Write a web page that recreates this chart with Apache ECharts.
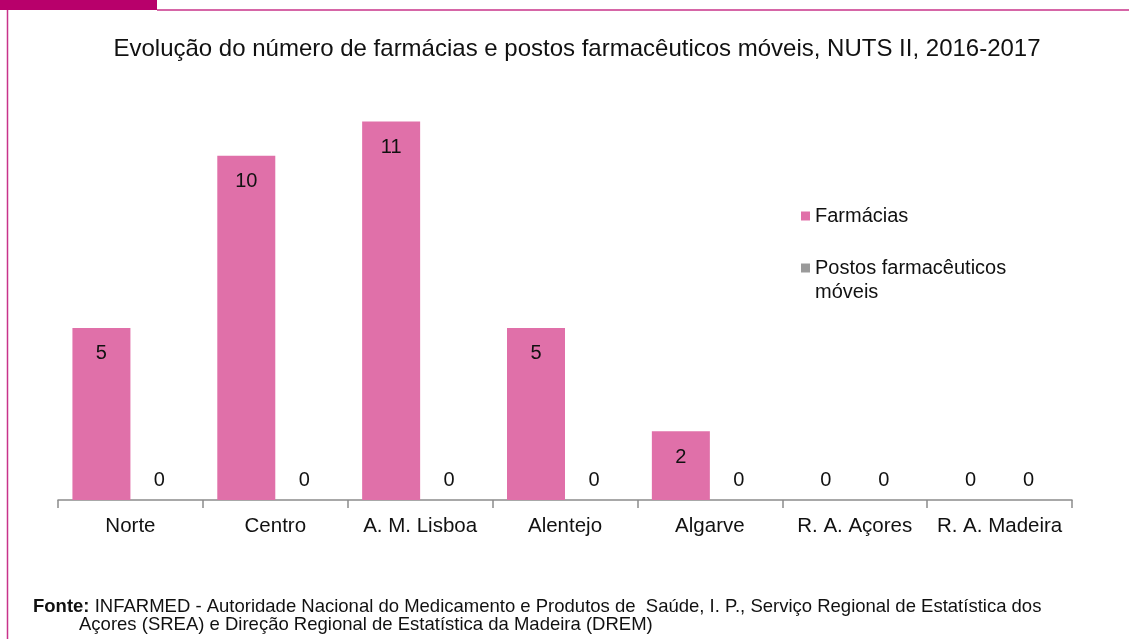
<!DOCTYPE html>
<html>
<head>
<meta charset="utf-8">
<script src="https://cdn.jsdelivr.net/npm/echarts@6/dist/echarts.min.js"></script>
<style>
  html, body { margin: 0; padding: 0; background: #fff; }
  #chart { width: 1129px; height: 639px; }
</style>
</head>
<body>
<div id="chart"></div>
<script>
// data
var regions = ['Norte', 'Centro', 'A. M. Lisboa', 'Alentejo', 'Algarve', 'R. A. Açores', 'R. A. Madeira'];
var farmacias = [5, 10, 11, 5, 2, 0, 0];
var postosMoveis = [0, 0, 0, 0, 0, 0, 0];

var FONT = '"Liberation Sans", Arial, sans-serif';
var PINK = '#e070a9';
var GREY = '#9a9a9a';

// zero values sit above the axis, others inside the bar top
function toItems(arr) {
    return arr.map(function (v) {
        if (v === 0) {
            return { value: v, label: { position: 'top', distance: 10 } };
        }
        return v;
    });
}

var chart = echarts.init(document.getElementById('chart'));

chart.setOption({
    animation: false,
    textStyle: { fontFamily: FONT },
    title: {
        text: 'Evolução do número de farmácias e postos farmacêuticos móveis, NUTS II, 2016-2017',
        left: 572,
        textAlign: 'center',
        top: 32,
        textStyle: { fontSize: 24, fontWeight: 'normal', color: '#111', fontFamily: FONT }
    },
    legend: {
        orient: 'vertical',
        left: 796,
        top: 199,
        itemWidth: 9,
        itemHeight: 9,
        itemGap: 4,
        icon: 'rect',
        textStyle: { fontSize: 20, lineHeight: 24, color: '#111', fontFamily: FONT },
        // empty first line keeps the square level with "Postos farmacêuticos"
        formatter: function (name) {
            return name === 'Postos farmacêuticos móveis' ? '\nPostos farmacêuticos\nmóveis' : name;
        },
        data: ['Farmácias', 'Postos farmacêuticos móveis']
    },
    grid: { left: 58, right: 57, top: 87, bottom: 139 },
    xAxis: {
        type: 'category',
        data: regions,
        axisLine: { lineStyle: { color: '#8c8c8c', width: 1.5 } },
        axisTick: { show: true, length: 8, lineStyle: { color: '#8c8c8c', width: 1.5 } },
        axisLabel: { fontSize: 20.5, color: '#111', margin: 16, fontFamily: FONT, interval: 0 }
    },
    yAxis: {
        type: 'value',
        min: 0,
        max: 12,
        show: false,
        splitLine: { show: false }
    },
    series: [
        {
            name: 'Farmácias',
            type: 'bar',
            data: toItems(farmacias),
            barWidth: 58,
            barGap: '0%',
            itemStyle: { color: PINK },
            label: {
                show: true,
                position: 'insideTop',
                distance: 16,
                fontSize: 20,
                color: '#111',
                fontFamily: FONT
            }
        },
        {
            name: 'Postos farmacêuticos móveis',
            type: 'bar',
            data: toItems(postosMoveis),
            barWidth: 58,
            barGap: '0%',
            itemStyle: { color: GREY },
            label: {
                show: true,
                position: 'top',
                distance: 10,
                fontSize: 20,
                color: '#111',
                fontFamily: FONT
            }
        }
    ],
    graphic: [
        // magenta tab and frame lines
        { type: 'rect', shape: { x: 0, y: 0, width: 157, height: 10 }, style: { fill: '#b8006b' } },
        { type: 'line', shape: { x1: 157, y1: 10, x2: 1129, y2: 10 }, style: { stroke: '#c8338a', lineWidth: 1.5 } },
        { type: 'line', shape: { x1: 7.5, y1: 10, x2: 7.5, y2: 639 }, style: { stroke: '#c8338a', lineWidth: 1.5 } },
        {
            type: 'text',
            left: 33,
            top: 597,
            style: {
                text: '{b|Fonte:} INFARMED - Autoridade Nacional do Medicamento e Produtos de  Saúde, I. P., Serviço Regional de Estatística dos',
                font: '18.5px ' + FONT,
                fill: '#111',
                rich: {
                    b: { fontWeight: 'bold', fontSize: 18.5, fontFamily: FONT, fill: '#111' }
                }
            }
        },
        {
            type: 'text',
            left: 79,
            top: 615,
            style: {
                text: 'Açores (SREA) e Direção Regional de Estatística da Madeira (DREM)',
                font: '18.5px ' + FONT,
                fill: '#111'
            }
        }
    ]
});
</script>
</body>
</html>
